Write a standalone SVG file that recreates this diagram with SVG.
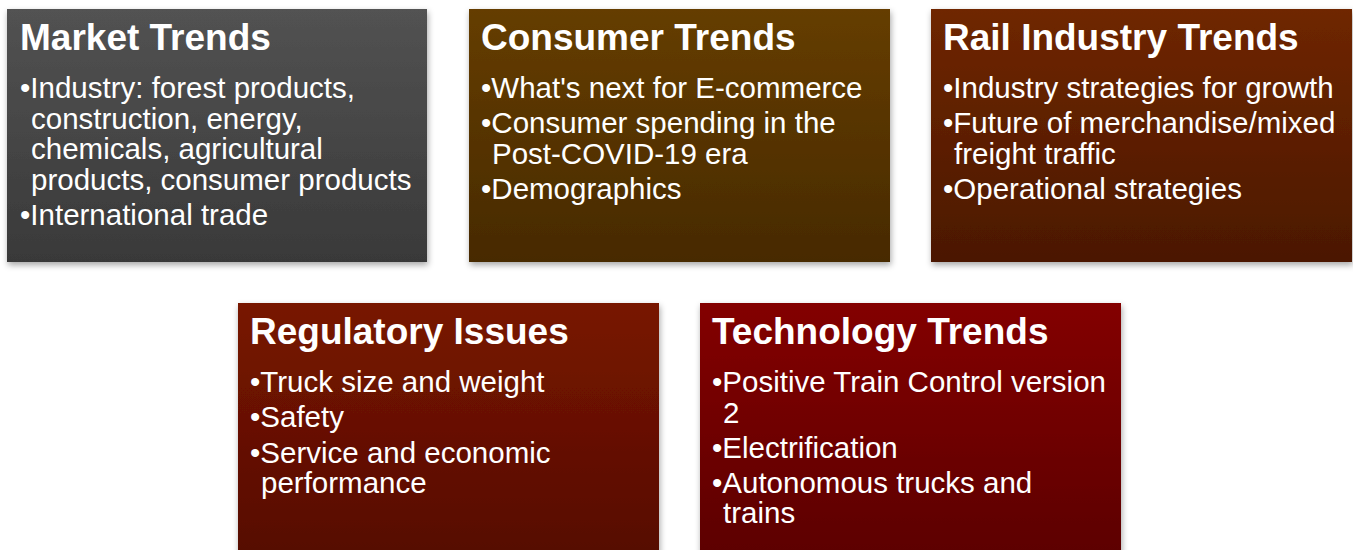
<svg xmlns="http://www.w3.org/2000/svg" width="1353" height="550" viewBox="0 0 1353 550">
<defs>
<filter id="sh" x="-5%" y="-5%" width="110%" height="115%">
<feDropShadow dx="1" dy="3" stdDeviation="3" flood-color="#000" flood-opacity="0.35"/>
</filter>
<linearGradient id="g1" x1="0" y1="0" x2="0" y2="1"><stop offset="0" stop-color="#525252"/><stop offset="1" stop-color="#393939"/></linearGradient>
<linearGradient id="g2" x1="0" y1="0" x2="0" y2="1"><stop offset="0" stop-color="#653d00"/><stop offset="1" stop-color="#472a00"/></linearGradient>
<linearGradient id="g3" x1="0" y1="0" x2="0" y2="1"><stop offset="0" stop-color="#6f2600"/><stop offset="1" stop-color="#4b1800"/></linearGradient>
<linearGradient id="g4" x1="0" y1="0" x2="0" y2="1"><stop offset="0" stop-color="#781500"/><stop offset="1" stop-color="#560c00"/></linearGradient>
<linearGradient id="g5" x1="0" y1="0" x2="0" y2="1"><stop offset="0" stop-color="#830000"/><stop offset="1" stop-color="#5c0000"/></linearGradient>
</defs>
<style>
.box{filter:url(#sh)}
.t{font-family:"Liberation Sans",Arial,sans-serif;font-weight:bold;font-size:37px;fill:#fff}
.b{font-family:"Liberation Sans",Arial,sans-serif;font-size:29.5px;fill:#fff}
</style>
<rect width="1353" height="550" fill="#fff"/>
<g id="market">
<rect class="box" x="7" y="9" width="420" height="253" fill="url(#g1)"/>
<text class="t" x="20" y="50">Market Trends</text>
<text class="b" x="20" y="98">•Industry: forest products,</text>
<text class="b" x="31" y="128.5">construction, energy,</text>
<text class="b" x="31" y="159">chemicals, agricultural</text>
<text class="b" x="31" y="189.5">products, consumer products</text>
<text class="b" x="20" y="225">•International trade</text>
</g>
<g id="consumer">
<rect class="box" x="469" y="9" width="421" height="253" fill="url(#g2)"/>
<text class="t" x="481" y="50">Consumer Trends</text>
<text class="b" x="481" y="98">•What's next for E-commerce</text>
<text class="b" x="481" y="133">•Consumer spending in the</text>
<text class="b" x="492" y="163.5">Post-COVID-19 era</text>
<text class="b" x="481" y="198.5">•Demographics</text>
</g>
<g id="rail">
<rect class="box" x="931" y="9" width="421" height="253" fill="url(#g3)"/>
<text class="t" x="943" y="50">Rail Industry Trends</text>
<text class="b" x="943" y="98">•Industry strategies for growth</text>
<text class="b" x="943" y="133">•Future of merchandise/mixed</text>
<text class="b" x="954" y="163.5">freight traffic</text>
<text class="b" x="943" y="198.5">•Operational strategies</text>
</g>
<g id="regulatory">
<rect class="box" x="238" y="303" width="421" height="253" fill="url(#g4)"/>
<text class="t" x="250" y="344">Regulatory Issues</text>
<text class="b" x="250" y="392">•Truck size and weight</text>
<text class="b" x="250" y="427">•Safety</text>
<text class="b" x="250" y="462.5">•Service and economic</text>
<text class="b" x="261" y="493">performance</text>
</g>
<g id="technology">
<rect class="box" x="700" y="303" width="421" height="253" fill="url(#g5)"/>
<text class="t" x="712" y="344">Technology Trends</text>
<text class="b" x="712" y="392">•Positive Train Control version</text>
<text class="b" x="723" y="422.5">2</text>
<text class="b" x="712" y="457.5">•Electrification</text>
<text class="b" x="712" y="492.5">•Autonomous trucks and</text>
<text class="b" x="723" y="523">trains</text>
</g>
<g id="connectors"/>
</svg>
